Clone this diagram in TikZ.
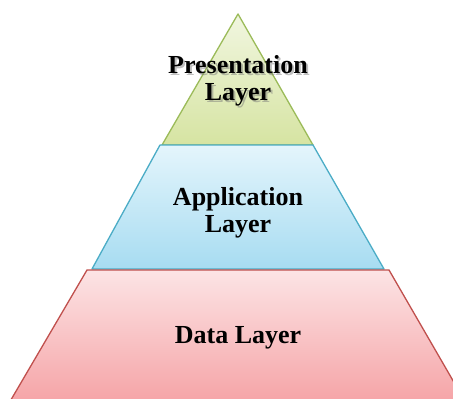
\documentclass[tikz,border=0pt]{standalone}
\usepackage{fontspec}
\setmainfont{Liberation Serif}
\definecolor{presline}{HTML}{9BBB59}
\definecolor{prestop}{HTML}{F1F6E0}
\definecolor{presbot}{HTML}{D6E4A2}
\definecolor{appline}{HTML}{4BACC6}
\definecolor{apptop}{HTML}{E4F5FC}
\definecolor{appbot}{HTML}{A7DCF1}
\definecolor{dataline}{HTML}{C0504D}
\definecolor{datatop}{HTML}{FCE4E5}
\definecolor{databot}{HTML}{F5A0A3}
\begin{document}
\begin{tikzpicture}[
    x=1pt, y=-1pt,
    layer/.style={line width=1.3pt, line join=round},
    lbl/.style={font=\fontsize{26}{27}\selectfont\bfseries, align=center, inner sep=0pt},
    shadowlbl/.style={lbl, text=black!55, opacity=0.45},
  ]
    \useasboundingbox (0,0) rectangle (453,399);
    \clip (0,0) rectangle (453,399);
    % layers, top to bottom
    \draw[layer, draw=presline, top color=prestop, bottom color=presbot]
      (238,14) -- (313,145) -- (162,145) -- cycle;
    \draw[layer, draw=appline, top color=apptop, bottom color=appbot]
      (160,145) -- (313,145) -- (384,269) -- (92,269) -- cycle;
    \draw[layer, draw=dataline, top color=datatop, bottom color=databot]
      (87,270) -- (389,270) -- (470,410) -- (5,410) -- cycle;
    % labels
    \node[shadowlbl] (presshadow) at (240,83) {Presentation\\Layer};
    \node[lbl] (pres) at (238,81) {Presentation\\Layer};
    \node[lbl] (app)  at (238,212.5) {Application\\Layer};
    \node[lbl, anchor=base] (data) at (238,343) {Data Layer};
  \end{tikzpicture}
\end{document}
